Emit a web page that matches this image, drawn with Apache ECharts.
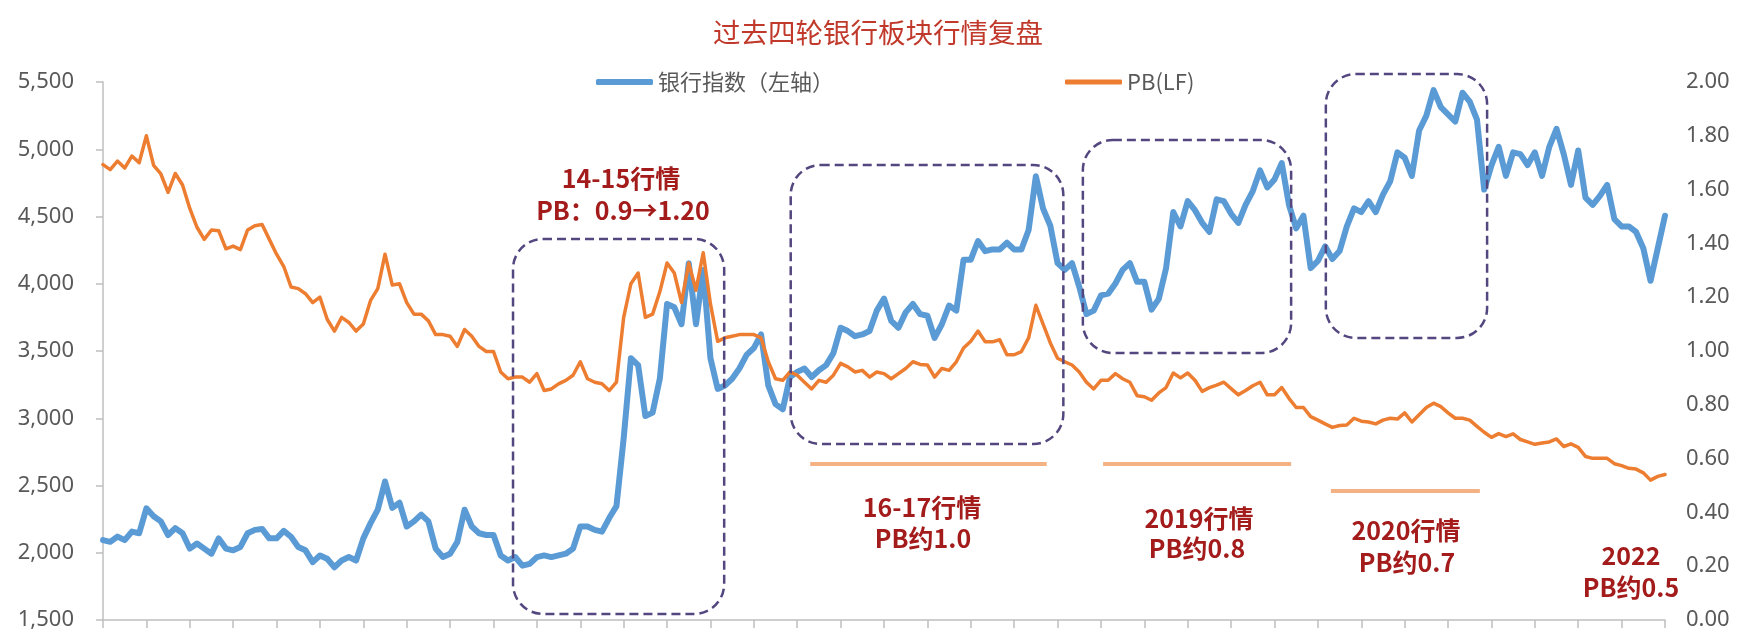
<!DOCTYPE html>
<html><head><meta charset="utf-8">
<script src="https://cdn.jsdelivr.net/npm/echarts@6/dist/echarts.min.js"></script>
<style>html,body{margin:0;padding:0;background:#fff}#c{width:1747px;height:632px}</style>
</head><body><div id="c"></div>
<script>
// 银行指数（左轴）
const bankIndex = [
2094,2081,2120,2094,2157,2145,2330,2271,2233,2132,2183,2145,2031,2069,2031,1993,2107,2031,2018,2043,
2145,2170,2177,2107,2107,2162,2119,2043,2018,1930,1980,1955,1892,1942,1968,1942,2107,2220,2321,2530,
2334,2372,2195,2233,2284,2233,2031,1968,1993,2081,2320,2195,2145,2132,2132,1980,1942,1968,1904,1917,
1968,1980,1968,1980,1993,2031,2195,2195,2170,2157,2258,2347,2850,3446,3395,3016,3042,3294,3850,3825,
3699,4153,3699,4103,3446,3218,3244,3294,3370,3471,3522,3623,3244,3105,3067,3307,3345,3370,3307,3357,
3395,3484,3673,3648,3610,3623,3648,3800,3890,3724,3673,3787,3850,3774,3762,3597,3699,3838,3800,4179,
4179,4318,4242,4255,4255,4305,4255,4255,4400,4800,4558,4431,4153,4103,4153,3977,3774,3800,3913,3926,
4002,4103,4153,4014,4014,3807,3888,4114,4533,4426,4614,4547,4453,4385,4628,4614,4520,4453,4587,4689,
4843,4716,4776,4897,4587,4412,4506,4116,4170,4278,4184,4243,4426,4560,4533,4614,4533,4663,4762,4977,
4937,4802,5139,5250,5440,5314,5260,5206,5420,5354,5220,4700,4880,5018,4802,4977,4964,4883,4977,4802,
5018,5152,4964,4735,4991,4641,4587,4654,4735,4480,4426,4426,4385,4264,4022,4264,4506
];
// PB(LF)（右轴）
const pbLF = [
1.693,1.674,1.706,1.680,1.725,1.700,1.800,1.690,1.658,1.590,1.660,1.617,1.530,1.460,1.415,1.450,1.447,1.380,1.390,1.377,
1.450,1.466,1.470,1.415,1.360,1.314,1.238,1.232,1.213,1.180,1.200,1.118,1.074,1.125,1.106,1.074,1.100,1.188,1.232,1.360,
1.245,1.250,1.180,1.137,1.137,1.112,1.061,1.061,1.055,1.017,1.080,1.055,1.017,0.998,0.998,0.922,0.897,0.903,0.903,0.884,
0.916,0.853,0.859,0.878,0.891,0.910,0.960,0.897,0.884,0.878,0.853,0.884,1.125,1.250,1.290,1.125,1.137,1.220,1.327,1.290,
1.180,1.327,1.226,1.365,1.175,1.036,1.049,1.055,1.061,1.061,1.061,1.049,0.960,0.897,0.891,0.922,0.910,0.884,0.859,0.891,
0.884,0.910,0.954,0.941,0.922,0.928,0.903,0.922,0.916,0.897,0.916,0.935,0.960,0.950,0.948,0.903,0.935,0.928,0.960,1.011,
1.036,1.074,1.034,1.034,1.042,0.986,0.986,0.998,1.049,1.170,1.100,1.030,0.973,0.960,0.948,0.922,0.884,0.859,0.891,0.891,
0.916,0.897,0.884,0.834,0.830,0.817,0.844,0.864,0.918,0.900,0.918,0.891,0.850,0.864,0.873,0.884,0.860,0.837,0.853,0.871,
0.884,0.837,0.837,0.864,0.824,0.790,0.790,0.756,0.743,0.729,0.716,0.723,0.725,0.750,0.739,0.736,0.729,0.743,0.750,0.747,
0.770,0.736,0.763,0.790,0.806,0.793,0.770,0.750,0.750,0.743,0.720,0.698,0.679,0.693,0.682,0.692,0.671,0.662,0.653,0.658,
0.662,0.673,0.645,0.655,0.642,0.608,0.601,0.601,0.601,0.581,0.574,0.564,0.561,0.547,0.520,0.534,0.541
];
const seriesNames = ['银行指数（左轴）', 'PB(LF)'];
const leftTicks = [1500, 2000, 2500, 3000, 3500, 4000, 4500, 5000, 5500];
const rightTicks = [0, 0.2, 0.4, 0.6, 0.8, 1.0, 1.2, 1.4, 1.6, 1.8, 2.0];
const titleText = '过去四轮银行板块行情复盘';

// highlighted periods (x = point index, y = left-axis value)
const periodBoxes = [
  [[56.7, 4333], [85.9, 1545]],
  [[95.1, 4883], [132.8, 2809]],
  [[135.5, 5069], [164.3, 3485]],
  [[169.1, 5559], [191.4, 3597]]
];
// PB level lines (x = point index, y = PB)
const pbLevels = [
  [97.8, 130.5, 0.58],
  [138.3, 164.3, 0.58],
  [169.8, 190.4, 0.48]
];
const notes = [
  ['14-15行情', 621, 178], ['PB：0.9→1.20', 623, 210],
  ['16-17行情', 922, 507], ['PB约1.0', 923, 538],
  ['2019行情', 1199, 518], ['PB约0.8', 1197, 548],
  ['2020行情', 1406, 530], ['PB约0.7', 1407, 562],
  ['2022', 1631, 555], ['PB约0.5', 1631, 587]
];

const CJK = '"Noto Sans CJK SC", "Noto Sans", sans-serif';
const NUM = '"Noto Sans", "Noto Sans CJK SC", sans-serif';
const chart = echarts.init(document.getElementById('c'), null, {renderer: 'canvas'});
const N = bankIndex.length;

chart.setOption({
  animation: false,
  backgroundColor: '#ffffff',
  grid: {left: 103, right: 82, top: 82, bottom: 12, containLabel: false},
  legend: [
    {data: [seriesNames[0]], left: 596, top: 71, padding: 0, itemWidth: 57, itemHeight: 6, icon: 'roundRect',
     textStyle: {fontSize: 22, color: '#595959', fontFamily: CJK}},
    {data: [seriesNames[1]], left: 1065, top: 71, padding: 0, itemWidth: 57, itemHeight: 5, icon: 'roundRect',
     textStyle: {fontSize: 22, color: '#595959', fontFamily: CJK}}
  ],
  xAxis: {
    type: 'value', min: 0, max: N - 1, interval: 6,
    axisLine: {show: true, lineStyle: {color: '#bfbfbf', width: 1.5}},
    axisTick: {show: true, length: 8, lineStyle: {color: '#bfbfbf', width: 1.5}},
    axisLabel: {show: false},
    splitLine: {show: false}
  },
  yAxis: [
    {type: 'value', min: leftTicks[0], max: leftTicks[leftTicks.length - 1], interval: 500,
     axisLine: {show: true, lineStyle: {color: '#bfbfbf', width: 1.5}},
     axisTick: {show: true, length: 7, lineStyle: {color: '#bfbfbf', width: 1.5}},
     axisLabel: {margin: 29, fontSize: 22, color: '#595959', fontFamily: NUM,
       formatter: v => v.toLocaleString('en-US')},
     splitLine: {show: false}},
    {type: 'value', min: rightTicks[0], max: rightTicks[rightTicks.length - 1], interval: 0.2,
     axisLine: {show: false}, axisTick: {show: false},
     axisLabel: {margin: 21, fontSize: 22, color: '#595959', fontFamily: NUM,
       formatter: v => v.toFixed(2)},
     splitLine: {show: false}}
  ],
  series: [
    {name: seriesNames[0], type: 'line', yAxisIndex: 0, showSymbol: false, symbol: 'none',
     data: bankIndex.map((v, i) => [i, v]), color: '#5b9bd5',
     lineStyle: {color: '#5b9bd5', width: 6, join: 'round', cap: 'round'}, z: 2},
    {name: seriesNames[1], type: 'line', yAxisIndex: 1, showSymbol: false, symbol: 'none',
     data: pbLF.map((v, i) => [i, v]), color: '#ed7d31',
     lineStyle: {color: '#ed7d31', width: 3.5, join: 'round', cap: 'round'}, z: 3,
     markLine: {silent: true, symbol: 'none', label: {show: false},
       lineStyle: {color: '#f4b183', width: 4, type: 'solid'},
       data: pbLevels.map(l => [{coord: [l[0], l[2]]}, {coord: [l[1], l[2]]}])}}
  ]
});

const graphics = [{
  type: 'text', x: 878, y: 33, z: 10,
  style: {text: titleText, font: '27.5px ' + CJK, fill: '#c0392b', textAlign: 'center', textVerticalAlign: 'middle'}
}];
periodBoxes.forEach(b => {
  const p0 = chart.convertToPixel({xAxisIndex: 0, yAxisIndex: 0}, b[0]);
  const p1 = chart.convertToPixel({xAxisIndex: 0, yAxisIndex: 0}, b[1]);
  graphics.push({type: 'rect', z: 5,
    shape: {x: p0[0], y: p0[1], width: p1[0] - p0[0], height: p1[1] - p0[1], r: 30},
    style: {fill: null, stroke: '#54467f', lineWidth: 2.5, lineDash: [9, 5]}});
});
notes.forEach(n => {
  graphics.push({type: 'text', x: n[1], y: n[2], z: 10,
    style: {text: n[0], font: 'bold 25px ' + CJK, fill: '#a31b1b', textAlign: 'center', textVerticalAlign: 'middle'}});
});
chart.setOption({graphic: graphics});
</script>
</body></html>
